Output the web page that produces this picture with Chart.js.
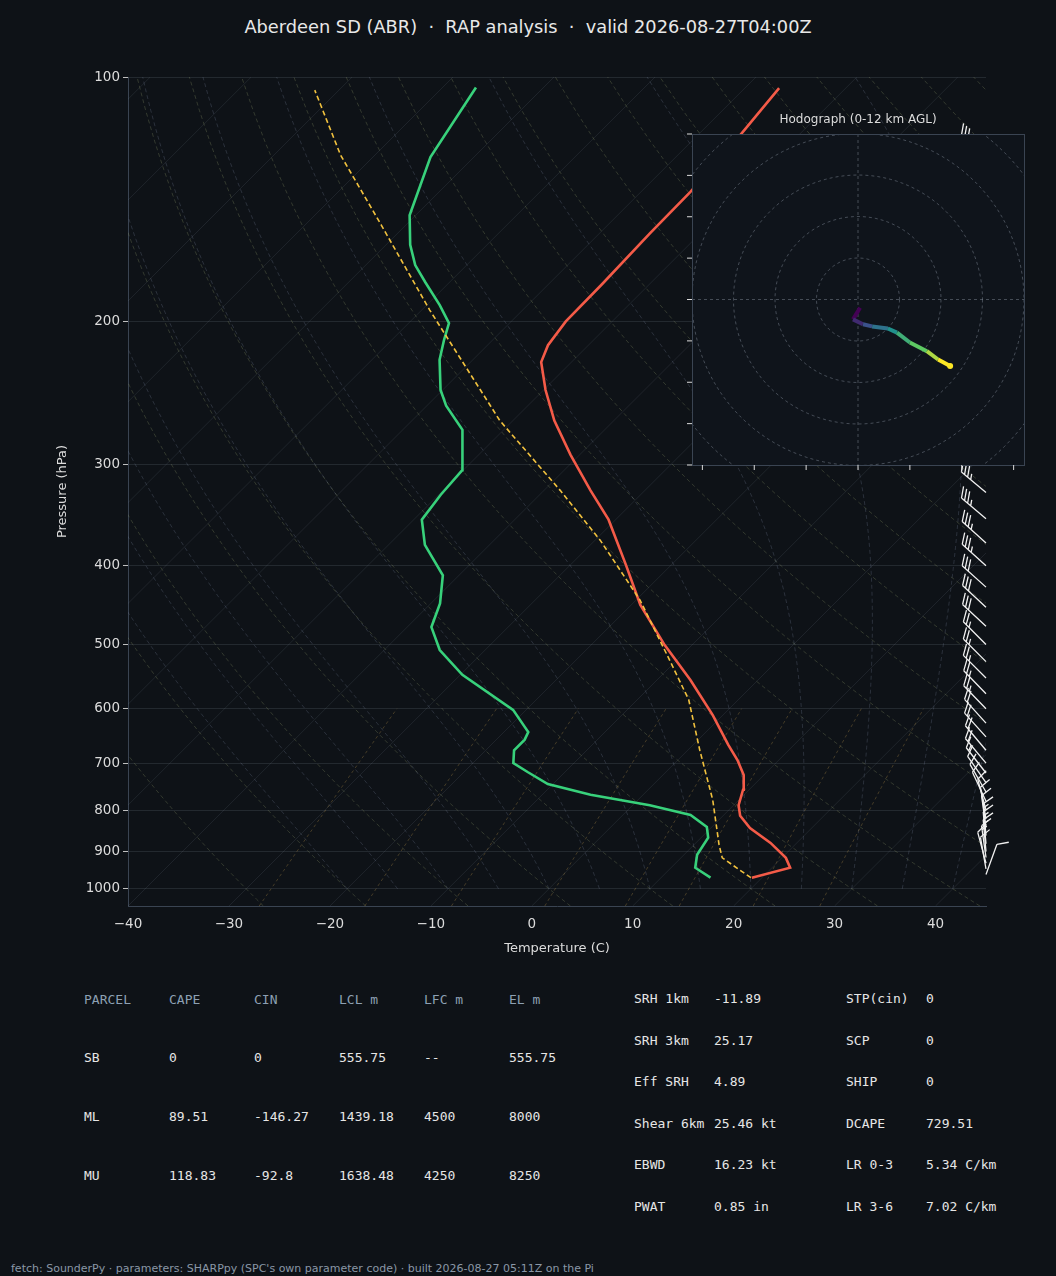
<!DOCTYPE html>
<html><head><meta charset="utf-8">
<script src="https://cdn.jsdelivr.net/npm/chart.js@4.4.1/dist/chart.umd.min.js"></script>
<style>
body{margin:0;background:#0e1217;width:1056px;height:1276px;overflow:hidden;position:relative;font-family:"DejaVu Sans",sans-serif;color:#e6e6e6}
#title{position:absolute;top:16px;left:0;width:1056px;text-align:center;font-size:17.8px;color:#e8e8e8}
#main{position:absolute;left:0;top:0}
#hodo{position:absolute;left:672px;top:100px}
.t{position:absolute;font-family:"DejaVu Sans Mono",monospace;font-size:13px;color:#e6e6e6;white-space:pre}
.h{color:#8da0b3}
#foot{position:absolute;left:11px;top:1262px;font-size:11px;color:#8a97a6}
</style></head><body>
<div id="title">Aberdeen SD (ABR) &nbsp;·&nbsp; RAP analysis &nbsp;·&nbsp; valid 2026-08-27T04:00Z</div>
<canvas id="main" width="1056" height="960"></canvas>
<canvas id="hodo" width="360" height="380"></canvas>
<div id="tables"></div>
<div id="foot">fetch: SounderPy · parameters: SHARPpy (SPC's own parameter code) · built 2026-08-27 05:11Z on the Pi</div>
<script>
// ---- data ----
const tempP=[969,942,916,878,842,813,789,755,724,694,665,611,553,501,447,399,351,323,292,265,243,224.5,214,200,180,155.7,138.6,117.9,103.2];
const tempT=[19.0,21.8,20.4,17.4,13.9,11.7,10.5,9.4,8.0,5.9,3.5,-1.0,-6.7,-12.7,-19.1,-24.5,-30.7,-35.4,-40.9,-45.9,-49.8,-53.0,-54.0,-54.6,-54.7,-55.0,-55.1,-55.8,-56.6];
const dewP=[969,942,908,865,839,811,789,766,743,718,700,675,655,641,602,545,508,476,445,411,377,351,327,305,292,272,254,243,223,211,201,191,179,170.5,161,148,125.5,103];
const dewT=[14.9,12.4,11.3,10.7,9.5,6.7,1.7,-5.2,-10.5,-13.7,-16.0,-17.2,-17.2,-17.6,-21.3,-29.8,-34.5,-37.6,-39.1,-41.6,-46.4,-49.2,-49.8,-50.1,-51.6,-54.1,-58.1,-60.2,-63.3,-64.8,-66.0,-68.7,-72.4,-75.1,-77.6,-80.6,-84.3,-86.7];
const parcelP=[969,916,883,777,675,585,523,441,372,323,265,193.7,152,124.8,103.8];
const parcelT=[18.9,14.1,12.5,7.4,1.2,-4.9,-10.7,-19.6,-29.5,-38.4,-51.3,-69.2,-82.5,-93.4,-102.4];
const hodoU=[0.5,-1.2,1.2,3.4,7.2,9.4,12.5,16.6,19.3,22.2];
const hodoV=[-2,-4.8,-6,-6.5,-7,-8,-10.4,-12.5,-14.5,-16.1];
const barbP=[960,945,930,915,900,880,860,840,820,800,780,760,740,720,700,675,650,625,600,575,550,525,500,475,450,425,400,375,350,325,300,275,250,225,200,175,150,125];
const barbSpd=[10,8,10,15,15,15,15,12,10,10,8,10,12,15,18,20,22,22,25,25,25,27,27,30,30,32,33,33,35,35,35,35,35,35,35,35,35,30];
const barbDir=[20,350,345,352,355,355,355,352,350,345,335,330,325,322,320,320,318,318,316,316,315,315,315,313,313,312,312,312,310,310,310,310,310,310,310,310,310,310];
const pTicks=[100,200,300,400,500,600,700,800,900,1000];
const tTicks=[-40,-30,-20,-10,0,10,20,30,40];
const tableHead=["PARCEL","CAPE","CIN","LCL m","LFC m","EL m"];
const tableRows=[["SB","0","0","555.75","--","555.75"],["ML","89.51","-146.27","1439.18","4500","8000"],["MU","118.83","-92.8","1638.48","4250","8250"]];
const params1=[["SRH 1km","-11.89"],["SRH 3km","25.17"],["Eff SRH","4.89"],["Shear 6km","25.46 kt"],["EBWD","16.23 kt"],["PWAT","0.85 in"]];
const params2=[["STP(cin)","0"],["SCP","0"],["SHIP","0"],["DCAPE","729.51"],["LR 0-3","5.34 C/km"],["LR 3-6","7.02 C/km"]];

const PBOT=1050, SKEW=80.5;
const sk=(T,p)=>T+SKEW*Math.log10(PBOT/p);
const mk=(P,T)=>P.map((p,i)=>({x:sk(T[i],p),y:p}));

// ---- tables ----
let html='';
const cx=[84,169,254,339,424,509], ry=[992,1050,1109,1168];
tableHead.forEach((h,i)=>html+=`<div class="t h" style="left:${cx[i]}px;top:${ry[0]}px">${h}</div>`);
tableRows.forEach((r,j)=>r.forEach((v,i)=>html+=`<div class="t" style="left:${cx[i]}px;top:${ry[j+1]}px">${v}</div>`));
params1.forEach((r,j)=>{html+=`<div class="t" style="left:634px;top:${991+j*41.6}px">${r[0]}</div><div class="t" style="left:714px;top:${991+j*41.6}px">${r[1]}</div>`});
params2.forEach((r,j)=>{html+=`<div class="t" style="left:846px;top:${991+j*41.6}px">${r[0]}</div><div class="t" style="left:926px;top:${991+j*41.6}px">${r[1]}</div>`});
document.getElementById('tables').innerHTML=html;

// ---- background lines plugin ----
const bgLines={id:'bgLines',beforeDatasetsDraw(c){
  const {ctx,chartArea:a,scales:{x,y}}=c;
  ctx.save();ctx.beginPath();ctx.rect(a.left,a.top,a.right-a.left,a.bottom-a.top);ctx.clip();
  const X=(T,p)=>x.getPixelForValue(sk(T,p)), Y=p=>y.getPixelForValue(p);
  const path=(pts)=>{ctx.beginPath();pts.forEach((q,i)=>i?ctx.lineTo(X(q[0],q[1]),Y(q[1])):ctx.moveTo(X(q[0],q[1]),Y(q[1])));ctx.stroke();};
  ctx.strokeStyle='rgba(150,160,175,0.13)';ctx.lineWidth=1;ctx.setLineDash([]);
  for(let T=-130;T<=50;T+=10) path([[T,1050],[T,100]]);
  ctx.strokeStyle='rgba(150,160,110,0.28)';ctx.setLineDash([4,3]);
  for(let th=-30;th<=200;th+=10){const pts=[];for(let p=1050;p>=100;p-=10)pts.push([(th+273.15)*Math.pow(p/1000,0.2857)-273.15,p]);path(pts);}
  ctx.strokeStyle='rgba(130,145,170,0.25)';
  for(let T0=-20;T0<=40;T0+=5){let T=T0;const pts=[[T,1000]];
    for(let p=1000;p>100;p-=5){const Tk=T+273.15,es=6.112*Math.exp(17.67*T/(T+243.5)),rs=0.622*es/(p-es);
      const d=(287*Tk+2.5e6*rs)/(1004+2.5e6*2.5e6*rs*0.622/(287*Tk*Tk))/p;T-=d*5;pts.push([T,p-5]);}
    path(pts);}
  ctx.strokeStyle='rgba(200,160,80,0.3)';ctx.setLineDash([3,3]);
  [0.4,1,2,4,7,10,16,24].forEach(w=>{const pts=[];for(let p=1050;p>=600;p-=25){const e=(w/1000)*p/(0.622+w/1000),l=Math.log(e/6.112);pts.push([243.5*l/(17.67-l),p]);}path(pts);});
  ctx.restore();
}};
// ---- wind barbs plugin ----
const barbs={id:'barbs',afterDatasetsDraw(c){
  const {ctx,chartArea:a,scales:{y}}=c;
  ctx.save();ctx.strokeStyle='#f0f0f0';ctx.lineWidth=1.3;ctx.setLineDash([]);
  barbP.forEach((p,i)=>{
    const bx=a.right,by=y.getPixelForValue(p),r=barbDir[i]*Math.PI/180;
    const dx=Math.sin(r),dy=-Math.cos(r),L=32;
    const tx=bx+dx*L,ty=by+dy*L;
    ctx.beginPath();ctx.moveTo(bx,by);ctx.lineTo(tx,ty);
    const ang=Math.PI/3,bxv=dx*Math.cos(ang)-dy*Math.sin(ang),byv=dx*Math.sin(ang)+dy*Math.cos(ang);
    let s=Math.round(barbSpd[i]/5)*5,pos=0;
    while(s>=10){const px=tx-dx*pos,py=ty-dy*pos;ctx.moveTo(px,py);ctx.lineTo(px+bxv*12,py+byv*12);pos+=4;s-=10;}
    if(s>=5){if(pos===0)pos=4;const px=tx-dx*pos,py=ty-dy*pos;ctx.moveTo(px,py);ctx.lineTo(px+bxv*6,py+byv*6);}
    ctx.stroke();
  });
  ctx.restore();
}};
Chart.defaults.font.family='"DejaVu Sans",sans-serif';
new Chart(document.getElementById('main'),{type:'scatter',
  data:{datasets:[
    {data:mk(parcelP,parcelT),showLine:true,borderColor:'#f2c23e',borderWidth:1.6,borderDash:[5,3],pointRadius:0},
    {data:mk(tempP,tempT),showLine:true,borderColor:'#f45b48',borderWidth:2.6,pointRadius:0},
    {data:mk(dewP,dewT),showLine:true,borderColor:'#38d17b',borderWidth:2.6,pointRadius:0}]},
  options:{responsive:false,animation:false,events:[],
    layout:{padding:{top:77,right:70,left:0,bottom:0}},
    plugins:{legend:{display:false},tooltip:{enabled:false}},
    scales:{
      x:{type:'linear',min:-40,max:45,afterFit(s){s.height=54},afterBuildTicks(s){s.ticks=tTicks.map(v=>({value:v}))},
        grid:{display:false,drawTicks:true},border:{color:'#3a4452'},
        ticks:{color:'#dcdcdc',font:{size:13.5},padding:2,callback:v=>String(v).replace('-','\u2212')},
        title:{display:true,text:'Temperature (C)',color:'#dcdcdc',font:{size:13},padding:{top:0}}},
      y:{type:'logarithmic',reverse:true,min:100,max:1050,afterFit(s){s.width=128},
        afterBuildTicks(s){s.ticks=pTicks.map(v=>({value:v}))},
        grid:{color:'rgba(150,160,175,0.16)',tickColor:'#c0c0c0',tickLength:5},border:{color:'#3a4452'},
        ticks:{color:'#dcdcdc',font:{size:13.5},callback:v=>String(v)},
        title:{display:true,text:'Pressure (hPa)',color:'#dcdcdc',font:{size:13},padding:{top:55,bottom:0}}}}},
  plugins:[bgLines,barbs]});

// ---- hodograph ----
const vir=[[68,1,84],[59,82,139],[33,145,140],[94,201,98],[253,231,37]];
const virC=t=>{const f=t*(vir.length-1),i=Math.min(Math.floor(f),vir.length-2),u=f-i;const c=vir[i].map((v,k)=>Math.round(v+(vir[i+1][k]-v)*u));return `rgb(${c})`;};
const hodoBg={id:'hodoBg',beforeDatasetsDraw(c){
  const {ctx,chartArea:a,scales:{x,y}}=c;ctx.save();
  ctx.fillStyle='#0f141b';ctx.fillRect(a.left,a.top,a.right-a.left,a.bottom-a.top);
  ctx.fillStyle='#dcdcdc';ctx.font='12px "DejaVu Sans"';ctx.textAlign='center';ctx.fillText('Hodograph (0-12 km AGL)',x.getPixelForValue(0),a.top-11);
  ctx.beginPath();ctx.rect(a.left,a.top,a.right-a.left,a.bottom-a.top);ctx.clip();
  const ox=x.getPixelForValue(0),oy=y.getPixelForValue(0),k=Math.abs(x.getPixelForValue(10)-ox);
  ctx.strokeStyle='rgba(150,160,175,0.4)';ctx.setLineDash([3,3]);ctx.lineWidth=1;
  for(let r=1;r<=6;r++){ctx.beginPath();for(let j=0;j<=120;j++){const t=j/120*Math.PI*2,px=ox+Math.cos(t)*r*k,py=oy+Math.sin(t)*r*k;j?ctx.lineTo(px,py):ctx.moveTo(px,py);}ctx.stroke();}
  ctx.beginPath();ctx.moveTo(a.left,oy);ctx.lineTo(a.right,oy);ctx.stroke();
  ctx.beginPath();ctx.moveTo(ox,a.top);ctx.lineTo(ox,a.bottom);ctx.stroke();
  ctx.restore();
},afterDatasetsDraw(c){
  const {ctx,chartArea:a,scales:{x,y}}=c;ctx.save();
  ctx.strokeStyle='#3a4452';ctx.lineWidth=1;ctx.setLineDash([]);ctx.strokeRect(a.left+0.5,a.top+0.5,a.right-a.left,a.bottom-a.top);
  ctx.strokeStyle='#dcdcdc';ctx.beginPath();
  for(let v=-37.5;v<=40;v+=12.5){const px=x.getPixelForValue(v);ctx.moveTo(px,a.bottom);ctx.lineTo(px,a.bottom+5);}
  for(let v=-40;v<=40;v+=10){const py=y.getPixelForValue(v);ctx.moveTo(a.left,py);ctx.lineTo(a.left-5,py);}
  ctx.stroke();ctx.restore();
}};
const n=hodoU.length;
new Chart(document.getElementById('hodo'),{type:'scatter',
  data:{datasets:[{data:hodoU.map((u,i)=>({x:u,y:hodoV[i]})),showLine:true,borderWidth:4,pointRadius:0,
    segment:{borderColor:ctx=>virC(ctx.p0DataIndex/(n-2))}},
    {data:[{x:hodoU[n-1],y:hodoV[n-1]}],pointRadius:3,pointBackgroundColor:'#fde725',pointBorderWidth:0}]},
  options:{responsive:false,animation:false,events:[],
    layout:{padding:{left:20,top:34,right:8,bottom:15}},
    plugins:{legend:{display:false},tooltip:{enabled:false}},
    scales:{x:{display:false,min:-40,max:40},y:{display:false,min:-40,max:40}}},
  plugins:[hodoBg]});
</script></body></html>
